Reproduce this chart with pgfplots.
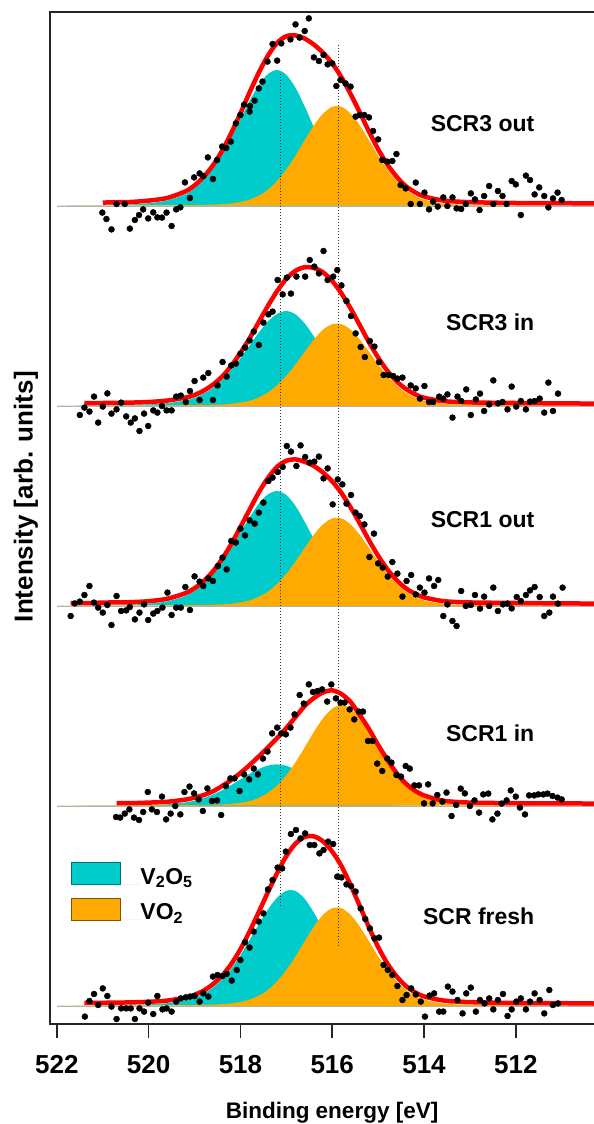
\documentclass[border=0pt]{standalone}
\usepackage{fontspec}
\setmainfont{Liberation Sans}
\usepackage{pgfplots}
\usepackage{pgfplotstable}
\pgfplotsset{compat=1.18}
\definecolor{cV}{RGB}{0,204,204}
\definecolor{cO}{RGB}{255,170,0}
\definecolor{cR}{RGB}{255,0,0}

% fitted components (cyan = V2O5, orange = VO2) and total fit, stacked offsets included
\pgfplotstableread{
E c o f
522.0 4.003 4.001 4.014
521.7 4.004 4.001 4.015
521.4 4.004 4.002 4.016
521.0 4.005 4.002 4.017
520.7 4.007 4.002 4.019
520.4 4.008 4.002 4.020
520.0 4.014 4.003 4.027
519.6 4.027 4.003 4.040
519.2 4.059 4.004 4.073
519.0 4.088 4.005 4.103
518.8 4.130 4.006 4.146
518.6 4.186 4.007 4.203
518.4 4.257 4.009 4.276
518.2 4.342 4.013 4.365
518.0 4.434 4.020 4.464
517.8 4.526 4.032 4.568
517.6 4.605 4.052 4.667
517.4 4.660 4.082 4.752
517.2 4.680 4.126 4.816
517.0 4.656 4.183 4.849
516.8 4.591 4.252 4.853
516.6 4.498 4.329 4.837
516.4 4.394 4.403 4.807
516.2 4.294 4.462 4.766
516.0 4.207 4.496 4.713
515.8 4.138 4.496 4.644
515.6 4.088 4.462 4.560
515.4 4.055 4.403 4.468
515.2 4.034 4.329 4.373
515.0 4.022 4.252 4.284
514.8 4.015 4.183 4.208
514.6 4.011 4.126 4.147
514.4 4.008 4.082 4.100
514.2 4.007 4.052 4.069
514.0 4.006 4.032 4.048
513.6 4.005 4.013 4.028
513.2 4.004 4.007 4.021
512.8 4.003 4.005 4.018
512.0 4.002 4.003 4.015
511.0 4.002 4.002 4.014
510.1 4.001 4.002 4.013
}\tA
\pgfplotstableread{
E c o f
522.0 3.002 3.001 3.013
521.7 3.002 3.001 3.013
521.4 3.003 3.001 3.014
521.0 3.003 3.002 3.015
520.7 3.004 3.002 3.016
520.4 3.005 3.002 3.017
520.0 3.008 3.002 3.020
519.6 3.014 3.003 3.027
519.2 3.028 3.004 3.042
519.0 3.041 3.004 3.055
518.8 3.062 3.005 3.077
518.6 3.091 3.006 3.107
518.4 3.130 3.007 3.147
518.2 3.180 3.011 3.201
518.0 3.239 3.017 3.266
517.8 3.303 3.026 3.339
517.6 3.367 3.043 3.420
517.4 3.423 3.068 3.501
517.2 3.461 3.104 3.575
517.0 3.475 3.151 3.636
516.8 3.458 3.208 3.676
516.6 3.413 3.271 3.694
516.4 3.348 3.332 3.690
516.2 3.276 3.382 3.668
516.0 3.206 3.409 3.625
515.8 3.144 3.409 3.563
515.6 3.096 3.382 3.488
515.4 3.062 3.332 3.404
515.2 3.038 3.271 3.319
515.0 3.024 3.208 3.242
514.8 3.015 3.151 3.176
514.6 3.010 3.104 3.124
514.4 3.008 3.068 3.086
514.2 3.006 3.043 3.059
514.0 3.005 3.026 3.041
513.6 3.004 3.011 3.025
513.2 3.003 3.006 3.019
512.8 3.003 3.004 3.017
512.0 3.002 3.003 3.015
511.0 3.001 3.002 3.013
510.1 3.001 3.001 3.012
}\tB
\pgfplotstableread{
E c o f
522.0 2.003 2.001 2.014
521.7 2.003 2.001 2.014
521.4 2.003 2.001 2.014
521.0 2.005 2.002 2.017
520.7 2.006 2.002 2.018
520.4 2.007 2.002 2.019
520.0 2.012 2.002 2.024
519.6 2.023 2.003 2.036
519.2 2.050 2.004 2.064
519.0 2.075 2.004 2.089
518.8 2.110 2.005 2.125
518.6 2.157 2.006 2.173
518.4 2.217 2.008 2.235
518.2 2.289 2.011 2.310
518.0 2.367 2.018 2.395
517.8 2.444 2.028 2.482
517.6 2.512 2.046 2.568
517.4 2.558 2.072 2.640
517.2 2.575 2.111 2.696
517.0 2.555 2.161 2.726
516.8 2.500 2.223 2.733
516.6 2.421 2.290 2.721
516.4 2.334 2.356 2.700
516.2 2.249 2.408 2.667
516.0 2.175 2.438 2.623
515.8 2.117 2.438 2.565
515.6 2.075 2.408 2.493
515.4 2.047 2.356 2.413
515.2 2.029 2.290 2.329
515.0 2.018 2.223 2.251
514.8 2.013 2.161 2.184
514.6 2.009 2.111 2.130
514.4 2.007 2.072 2.089
514.2 2.006 2.046 2.062
514.0 2.005 2.028 2.043
513.6 2.004 2.011 2.025
513.2 2.003 2.006 2.019
512.8 2.003 2.004 2.017
512.0 2.002 2.003 2.015
511.0 2.001 2.002 2.013
510.1 2.001 2.001 2.012
}\tC
\pgfplotstableread{
E c o f
522.0 1.001 1.001 1.012
521.7 1.001 1.001 1.012
521.4 1.001 1.002 1.013
521.0 1.002 1.002 1.014
520.7 1.002 1.002 1.014
520.4 1.002 1.002 1.014
520.0 1.004 1.003 1.017
519.6 1.008 1.003 1.021
519.2 1.018 1.004 1.032
519.0 1.027 1.005 1.042
518.8 1.040 1.005 1.055
518.6 1.057 1.006 1.073
518.4 1.079 1.008 1.100
518.2 1.105 1.011 1.130
518.0 1.133 1.016 1.165
517.8 1.161 1.025 1.205
517.6 1.185 1.041 1.248
517.4 1.202 1.066 1.293
517.2 1.208 1.103 1.340
517.0 1.201 1.154 1.390
516.8 1.181 1.219 1.445
516.6 1.152 1.293 1.500
516.4 1.121 1.370 1.540
516.2 1.090 1.439 1.568
516.0 1.063 1.487 1.578
515.8 1.042 1.505 1.560
515.6 1.027 1.487 1.520
515.4 1.017 1.439 1.455
515.2 1.010 1.370 1.385
515.0 1.007 1.293 1.305
514.8 1.005 1.219 1.232
514.6 1.003 1.154 1.165
514.4 1.002 1.103 1.113
514.2 1.002 1.066 1.077
514.0 1.002 1.041 1.053
513.6 1.001 1.016 1.027
513.2 1.001 1.008 1.019
512.8 1.001 1.005 1.016
512.0 1.001 1.003 1.014
511.0 1.001 1.002 1.013
510.1 1.000 1.002 1.012
}\tD
\pgfplotstableread{
E c o f
522.0 0.003 0.001 0.014
521.7 0.003 0.001 0.014
521.4 0.003 0.002 0.015
521.0 0.004 0.002 0.016
520.7 0.005 0.002 0.017
520.4 0.006 0.002 0.018
520.0 0.008 0.003 0.021
519.6 0.014 0.003 0.027
519.2 0.028 0.004 0.042
519.0 0.041 0.005 0.056
518.8 0.062 0.005 0.077
518.6 0.092 0.007 0.109
518.4 0.133 0.009 0.152
518.2 0.187 0.013 0.210
518.0 0.254 0.020 0.284
517.8 0.331 0.032 0.373
517.6 0.409 0.051 0.470
517.4 0.483 0.081 0.570
517.2 0.542 0.124 0.665
517.0 0.576 0.180 0.750
516.8 0.575 0.248 0.812
516.6 0.536 0.324 0.845
516.4 0.467 0.397 0.848
516.2 0.381 0.456 0.823
516.0 0.292 0.489 0.772
515.8 0.212 0.489 0.700
515.6 0.146 0.456 0.605
515.4 0.095 0.397 0.500
515.2 0.060 0.324 0.394
515.0 0.037 0.248 0.295
514.8 0.023 0.180 0.213
514.6 0.015 0.124 0.149
514.4 0.010 0.081 0.101
514.2 0.008 0.051 0.069
514.0 0.006 0.032 0.048
513.6 0.005 0.013 0.028
513.2 0.004 0.007 0.021
512.8 0.003 0.005 0.018
512.0 0.002 0.003 0.015
511.0 0.002 0.002 0.014
510.1 0.001 0.001 0.012
}\tE

% measured points
\pgfplotstableread{
E y
521.01 3.967
520.92 3.935
520.81 3.883
520.70 4.010
520.52 4.010
520.41 3.887
520.30 3.930
520.21 3.955
520.12 3.983
520.01 3.938
519.90 3.968
519.81 3.943
519.71 3.942
519.61 3.967
519.50 3.900
519.40 3.983
519.31 3.993
519.21 4.118
519.10 4.040
519.01 4.143
518.89 4.163
518.81 4.150
518.71 4.243
518.60 4.135
518.51 4.230
518.40 4.297
518.31 4.290
518.21 4.322
518.10 4.413
518.00 4.455
517.92 4.507
517.80 4.472
517.79 4.500
517.69 4.527
517.60 4.588
517.52 4.622
517.41 4.722
517.30 4.810
517.20 4.727
517.11 4.813
516.91 4.833
516.80 4.908
516.71 4.842
516.60 4.875
516.51 4.938
516.40 4.743
516.29 4.725
516.19 4.755
516.10 4.708
516.00 4.713
515.91 4.600
515.82 4.630
515.71 4.613
515.60 4.597
515.49 4.447
515.40 4.455
515.30 4.455
515.20 4.443
515.11 4.375
515.00 4.333
514.91 4.230
514.80 4.222
514.69 4.225
514.60 4.260
514.51 4.105
514.40 4.088
514.29 4.010
514.18 4.117
514.09 4.010
513.99 4.067
513.89 3.983
513.80 4.022
513.70 3.997
513.58 4.043
513.49 4.000
513.38 4.043
513.29 3.988
513.19 3.985
513.09 4.010
512.98 4.063
512.89 4.033
512.79 3.980
512.69 4.050
512.58 4.100
512.49 4.010
512.39 4.075
512.29 4.050
512.20 4.010
512.09 4.125
512.00 4.108
511.89 3.955
511.78 4.152
511.69 4.130
511.59 4.058
511.49 4.093
511.38 4.050
511.29 3.993
511.19 4.038
511.09 4.067
511.00 4.030
}\dA
\pgfplotstableread{
E y
521.50 2.955
521.40 2.992
521.29 2.972
521.19 3.047
521.10 2.917
521.00 2.997
520.90 3.063
520.81 2.962
520.70 2.983
520.60 3.017
520.49 2.948
520.39 2.917
520.30 2.938
520.20 2.875
520.10 2.962
520.01 2.900
519.90 2.978
519.81 2.967
519.71 3.000
519.61 2.978
519.50 2.978
519.40 3.047
519.30 3.052
519.19 3.020
519.10 3.075
519.00 3.125
518.89 3.030
518.81 3.142
518.70 3.165
518.60 3.030
518.50 3.103
518.39 3.220
518.30 3.147
518.20 3.203
518.10 3.212
518.00 3.262
517.90 3.292
517.80 3.328
517.71 3.372
517.60 3.305
517.50 3.417
517.39 3.458
517.30 3.472
517.19 3.630
517.08 3.558
516.99 3.642
516.90 3.562
516.78 3.647
516.59 3.647
516.49 3.730
516.39 3.697
516.29 3.663
516.19 3.775
516.10 3.630
515.98 3.647
515.89 3.680
515.80 3.603
515.69 3.525
515.59 3.450
515.49 3.363
515.38 3.295
515.29 3.245
515.18 3.325
515.08 3.297
514.98 3.220
514.88 3.155
514.77 3.155
514.67 3.150
514.58 3.137
514.47 3.142
514.29 3.103
514.18 3.088
514.09 3.037
513.99 3.100
513.89 3.020
513.80 3.020
513.67 3.047
513.58 3.037
513.49 3.058
513.38 2.942
513.27 3.047
513.19 3.025
513.08 3.083
512.98 2.955
512.87 3.033
512.78 3.062
512.69 2.975
512.58 3.008
512.49 3.128
512.39 3.013
512.29 3.020
512.18 2.983
512.09 3.097
511.99 2.997
511.89 3.025
511.78 2.983
511.69 3.022
511.59 3.025
511.48 3.037
511.38 2.967
511.29 3.117
511.19 2.975
511.08 3.062
}\dB
\pgfplotstableread{
E y
521.70 1.950
521.61 2.013
521.50 2.022
521.40 2.055
521.29 2.100
521.19 2.017
521.10 1.992
521.00 1.967
520.90 2.005
520.81 1.905
520.70 2.050
520.60 1.975
520.49 1.978
520.41 1.995
520.30 1.933
520.20 1.967
520.10 2.008
520.01 1.930
519.90 1.962
519.81 1.975
519.70 1.992
519.59 2.067
519.50 1.955
519.40 1.992
519.30 1.992
519.20 2.095
519.10 1.980
519.00 2.148
518.89 2.122
518.81 2.100
518.70 2.138
518.60 2.125
518.49 2.200
518.39 2.242
518.30 2.183
518.20 2.325
518.10 2.317
518.00 2.387
517.90 2.353
517.80 2.428
517.69 2.412
517.60 2.467
517.50 2.517
517.39 2.625
517.30 2.642
517.19 2.670
517.08 2.695
516.99 2.800
516.90 2.772
516.78 2.700
516.69 2.803
516.59 2.745
516.49 2.717
516.39 2.722
516.29 2.747
516.19 2.638
516.10 2.688
515.99 2.508
515.88 2.633
515.78 2.608
515.69 2.512
515.59 2.555
515.49 2.467
515.40 2.450
515.30 2.408
515.19 2.245
515.09 2.362
515.00 2.213
514.90 2.192
514.79 2.147
514.69 2.220
514.58 2.162
514.47 2.047
514.38 2.125
514.28 2.155
514.18 2.058
514.09 2.092
513.99 2.067
513.89 2.138
513.78 2.100
513.69 2.130
513.58 1.950
513.49 2.008
513.38 1.925
513.29 1.900
513.19 2.075
513.09 2.000
512.98 2.005
512.89 2.055
512.78 1.987
512.69 2.047
512.58 2.000
512.49 2.092
512.39 1.975
512.28 2.008
512.18 2.012
512.09 1.988
511.98 2.045
511.89 2.025
511.78 2.055
511.69 2.078
511.59 2.095
511.48 2.045
511.38 1.950
511.27 1.967
511.19 2.047
511.08 2.012
510.98 2.092
}\dC
\pgfplotstableread{
E y
520.71 0.945
520.62 0.942
520.52 0.962
520.42 0.983
520.32 0.942
520.21 0.930
520.12 0.970
520.02 1.070
519.93 0.983
519.82 0.970
519.71 1.047
519.62 0.933
519.52 0.962
519.42 1.000
519.31 0.958
519.22 1.070
519.11 1.097
519.01 1.063
518.91 1.033
518.82 0.975
518.72 1.088
518.62 1.025
518.51 1.028
518.42 0.955
518.32 1.100
518.22 1.138
518.13 1.138
518.02 1.075
517.92 1.158
517.81 1.133
517.71 1.187
517.62 1.158
517.51 1.237
517.41 1.272
517.31 1.363
517.20 1.392
517.11 1.363
517.01 1.358
516.91 1.392
516.82 1.458
516.71 1.555
516.62 1.512
516.51 1.608
516.42 1.570
516.32 1.575
516.22 1.583
516.11 1.522
516.02 1.608
515.92 1.538
515.82 1.517
515.73 1.517
515.62 1.483
515.52 1.433
515.42 1.472
515.33 1.472
515.22 1.325
515.12 1.325
515.02 1.212
514.91 1.175
514.80 1.237
514.71 1.217
514.60 1.155
514.50 1.147
514.40 1.200
514.31 1.187
514.21 1.103
514.11 1.103
514.00 1.013
513.91 1.108
513.81 1.013
513.71 1.055
513.60 1.022
513.51 1.067
513.40 0.950
513.30 1.005
513.20 1.087
513.11 1.063
513.00 1.000
512.90 1.028
512.80 0.967
512.71 1.058
512.60 1.062
512.51 0.933
512.40 0.962
512.31 1.012
512.20 1.028
512.11 1.078
512.00 1.047
511.91 0.992
511.80 0.958
511.71 1.053
511.60 1.053
511.51 1.058
511.40 1.058
511.31 1.062
511.20 1.050
511.09 1.042
511.00 1.033
}\dD
\pgfplotstableread{
E y
521.39 -0.053
521.29 0.025
521.19 0.060
521.10 0.005
521.00 0.088
520.90 0.050
520.81 -0.003
520.70 -0.065
520.60 -0.012
520.49 -0.012
520.39 -0.012
520.30 -0.065
520.20 -0.012
520.10 -0.028
520.01 0.017
519.90 -0.040
519.81 0.050
519.70 -0.017
519.61 -0.012
519.50 -0.028
519.40 0.022
519.30 0.038
519.19 0.043
519.10 0.047
519.00 0.050
518.89 0.022
518.81 0.063
518.70 0.047
518.60 0.147
518.50 0.155
518.39 0.150
518.30 0.160
518.19 0.127
518.08 0.180
518.00 0.230
517.90 0.318
517.80 0.292
517.71 0.372
517.60 0.422
517.50 0.463
517.40 0.583
517.30 0.630
517.19 0.692
517.09 0.688
517.01 0.772
516.90 0.860
516.79 0.880
516.69 0.838
516.59 0.863
516.49 0.805
516.39 0.805
516.28 0.763
516.19 0.780
516.09 0.822
515.98 0.810
515.89 0.647
515.80 0.643
515.69 0.608
515.59 0.600
515.49 0.572
515.38 0.488
515.28 0.435
515.18 0.388
515.08 0.338
514.98 0.342
514.88 0.205
514.79 0.180
514.69 0.155
514.58 0.100
514.47 0.030
514.38 0.055
514.28 0.088
514.18 0.058
514.07 0.022
513.98 -0.053
513.88 0.052
513.78 0.063
513.67 -0.028
513.58 -0.028
513.48 0.097
513.38 0.072
513.27 0.030
513.16 -0.037
513.08 0.063
512.98 0.092
512.87 -0.028
512.78 0.030
512.68 0.013
512.58 0.038
512.49 -0.017
512.39 0.030
512.28 0.060
512.18 -0.050
512.09 -0.017
511.99 0.022
511.89 0.038
511.78 -0.017
511.69 0.022
511.59 0.063
511.48 0.030
511.38 -0.037
511.27 0.080
511.19 0.005
511.08 0.013
}\dE

\begin{document}
\begin{tikzpicture}
\useasboundingbox (-50pt,-100pt) rectangle (544pt,1024pt);
\begin{axis}[
  at={(0pt,0pt)}, anchor=south west,
  scale only axis, width=553pt, height=1012pt,
  x dir=reverse,
  xmin=510.1, xmax=522.15, ymin=-0.09, ymax=4.97,
  enlargelimits=false,
  axis line style={line width=2pt, black!85},
  xtick={512,514,516,518,520,522},
  ytick=\empty,
  xtick pos=left,
  tick align=outside,
  major tick length=14pt,
  tick style={line width=1.5pt, black!85},
  /pgf/number format/assume math mode=true,
  xticklabel style={font=\fontsize{26}{26}\selectfont\bfseries, yshift=-14pt},
  xlabel={Binding energy [eV]},
  xlabel style={font=\fontsize{22.5}{22.5}\selectfont\bfseries, at={(axis description cs:0.51,0)}, anchor=north, yshift=-78pt, inner sep=0pt},
  ylabel={Intensity [arb. units]},
  ylabel style={font=\fontsize{26}{26}\selectfont\bfseries, at={(axis description cs:-0.0434,0.521)}, anchor=center, inner sep=0pt},
  legend style={at={(axis cs:521.695,0.72)}, anchor=north west, draw=none, fill=none,
    font=\fontsize{23}{23}\selectfont\bfseries, row sep=12pt, inner sep=0pt,
    nodes={inner sep=0pt}, cells={anchor=base west}},
]
% thin baselines
\addplot[black!30, line width=0.6pt, forget plot] coordinates {(522.0,4) (510.1,4)};
\addplot[black!30, line width=0.6pt, forget plot] coordinates {(522.0,3) (510.1,3)};
\addplot[black!30, line width=0.6pt, forget plot] coordinates {(522.0,2) (510.1,2)};
\addplot[black!30, line width=0.6pt, forget plot] coordinates {(522.0,1) (510.1,1)};
\addplot[black!30, line width=0.6pt, forget plot] coordinates {(522.0,0) (510.1,0)};

% components
\addplot[draw=none, fill=cV, smooth,
  legend image code/.code={\draw[fill=cV, draw=cV!55!black, line width=0.8pt] (0pt,-0.5pt) rectangle (49pt,21.5pt); \path (0pt,0pt) -- (69pt,0pt);}]
  table[x=E, y=c] {\tA} -- cycle;
\addlegendentry{V\textsubscript{2}O\textsubscript{5}}
\addplot[draw=none, fill=cO, smooth,
  legend image code/.code={\draw[fill=cO, draw=cO!50!black, line width=0.8pt] (0pt,-0.5pt) rectangle (49pt,21.5pt); \path (0pt,0pt) -- (69pt,0pt);}]
  table[x=E, y=o] {\tA} -- cycle;
\addlegendentry{VO\textsubscript{2}}
\addplot[draw=none, fill=cV, smooth, forget plot] table[x=E, y=c] {\tB} -- cycle;
\addplot[draw=none, fill=cO, smooth, forget plot] table[x=E, y=o] {\tB} -- cycle;
\addplot[draw=none, fill=cV, smooth, forget plot] table[x=E, y=c] {\tC} -- cycle;
\addplot[draw=none, fill=cO, smooth, forget plot] table[x=E, y=o] {\tC} -- cycle;
\addplot[draw=none, fill=cV, smooth, forget plot] table[x=E, y=c] {\tD} -- cycle;
\addplot[draw=none, fill=cO, smooth, forget plot] table[x=E, y=o] {\tD} -- cycle;
\addplot[draw=none, fill=cV, smooth, forget plot] table[x=E, y=c] {\tE} -- cycle;
\addplot[draw=none, fill=cO, smooth, forget plot] table[x=E, y=o] {\tE} -- cycle;

% reference lines
\addplot[black!80, line width=1pt, dash pattern=on 1.2pt off 1.8pt, forget plot] coordinates {(517.12,4.66) (517.12,0.49)};
\addplot[black!80, line width=1pt, dash pattern=on 1.2pt off 1.8pt, forget plot] coordinates {(515.86,4.805) (515.86,0.30)};

% total fits
\addplot[cR, line width=4.5pt, smooth, restrict x to domain=510:521.05, forget plot] table[x=E, y=f] {\tA};
\addplot[cR, line width=4.5pt, smooth, restrict x to domain=510:521.45, forget plot] table[x=E, y=f] {\tB};
\addplot[cR, line width=4.5pt, smooth, restrict x to domain=510:521.75, forget plot] table[x=E, y=f] {\tC};
\addplot[cR, line width=4.5pt, smooth, restrict x to domain=510:520.75, forget plot] table[x=E, y=f] {\tD};
\addplot[cR, line width=4.5pt, smooth, restrict x to domain=510:521.45, forget plot] table[x=E, y=f] {\tE};

% data points
\addplot[only marks, mark=*, mark size=3pt, black, forget plot] table[x=E, y=y] {\dA};
\addplot[only marks, mark=*, mark size=3pt, black, forget plot] table[x=E, y=y] {\dB};
\addplot[only marks, mark=*, mark size=3pt, black, forget plot] table[x=E, y=y] {\dC};
\addplot[only marks, mark=*, mark size=3pt, black, forget plot] table[x=E, y=y] {\dD};
\addplot[only marks, mark=*, mark size=3pt, black, forget plot] table[x=E, y=y] {\dE};

% panel labels
\node[anchor=base east, font=\fontsize{23}{23}\selectfont\bfseries] at (axis cs:511.52,4.375) {SCR3 out};
\node[anchor=base east, font=\fontsize{23}{23}\selectfont\bfseries] at (axis cs:511.52,3.38) {SCR3 in};
\node[anchor=base east, font=\fontsize{23}{23}\selectfont\bfseries] at (axis cs:511.52,2.395) {SCR1 out};
\node[anchor=base east, font=\fontsize{23}{23}\selectfont\bfseries] at (axis cs:511.52,1.325) {SCR1 in};
\node[anchor=base east, font=\fontsize{23}{23}\selectfont\bfseries] at (axis cs:511.52,0.41) {SCR fresh};
\end{axis}
\end{tikzpicture}
\end{document}
